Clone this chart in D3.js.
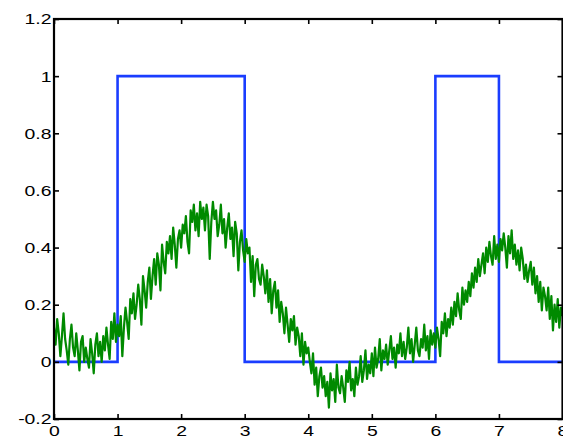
<!DOCTYPE html>
<html>
<head>
<meta charset="utf-8">
<script src="https://cdn.jsdelivr.net/npm/d3@7"></script>
<style>
html,body{margin:0;padding:0;background:#fff;overflow:hidden;}
svg{display:block;}
.tick text{font-family:"Liberation Sans",Arial,Helvetica,sans-serif;font-size:15.5px;fill:#000;}
</style>
</head>
<body>
<svg id="chart" width="563" height="442"></svg>
<script>
// ---- data ----
const xTicks = [0,1,2,3,4,5,6,7,8];
const yTicks = [-0.2,0,0.2,0.4,0.6,0.8,1,1.2];

// square (blue) signal: breakpoints and levels
const stepX = [0,1,1,3,3,6,6,7,7,8];
const stepY = [0,0,1,1,0,0,1,1,0,0];

// noisy (green) signal, sampled every 0.025 from 0 to 8
const noisyStart = 0, noisyStep = 0.025;
const noisyY = [
0.12,0.06,0.15,0.10,0.02,0.09,0.17,0.08,0.04,-0.01,
0.08,0.13,0.05,0.02,0.10,0.04,-0.03,0.07,0.09,0.00,
0.05,0.01,-0.02,0.08,0.03,-0.04,0.06,0.10,0.02,0.07,
0.00,0.09,0.04,0.12,0.06,0.01,0.14,0.08,0.17,0.07,
0.13,0.09,0.16,0.02,0.12,0.19,0.14,0.08,0.22,0.17,
0.24,0.15,0.20,0.27,0.22,0.13,0.30,0.25,0.19,0.28,
0.33,0.22,0.30,0.36,0.27,0.38,0.34,0.25,0.41,0.35,
0.31,0.42,0.38,0.44,0.36,0.47,0.41,0.33,0.43,0.46,
0.40,0.48,0.45,0.51,0.42,0.38,0.53,0.49,0.55,0.46,
0.52,0.44,0.56,0.50,0.54,0.46,0.55,0.51,0.36,0.49,
0.56,0.50,0.53,0.44,0.48,0.55,0.45,0.50,0.40,0.47,
0.52,0.43,0.47,0.37,0.49,0.45,0.32,0.42,0.46,0.39,
0.35,0.43,0.38,0.40,0.28,0.37,0.23,0.34,0.36,0.29,
0.27,0.34,0.30,0.24,0.32,0.21,0.29,0.17,0.25,0.28,
0.19,0.25,0.14,0.21,0.17,0.10,0.19,0.13,0.07,0.15,
0.11,0.16,0.06,0.12,0.09,0.02,0.10,-0.01,0.07,0.03,
0.05,0.00,-0.04,0.03,-0.08,-0.02,-0.12,-0.05,-0.02,-0.09,
-0.05,-0.12,-0.07,-0.16,-0.04,-0.10,-0.06,-0.14,-0.01,-0.09,
-0.11,-0.05,-0.09,-0.14,-0.03,-0.07,0.00,-0.10,-0.06,-0.12,
-0.02,-0.08,-0.05,0.02,-0.07,-0.03,0.04,-0.06,-0.01,-0.04,
0.03,-0.05,0.05,-0.02,0.01,0.08,-0.03,0.04,0.01,0.06,
-0.01,0.04,0.09,0.01,0.05,-0.02,0.06,0.03,0.10,0.02,
0.07,0.01,0.05,0.12,0.03,0.08,0.00,0.06,0.12,0.04,
0.02,0.08,0.05,0.13,0.04,0.09,0.01,0.11,0.06,0.10,
0.05,0.12,0.08,0.02,0.14,0.10,0.17,0.09,0.15,0.12,
0.19,0.13,0.21,0.16,0.24,0.18,0.15,0.26,0.20,0.25,
0.21,0.28,0.23,0.31,0.26,0.33,0.28,0.36,0.30,0.34,
0.38,0.31,0.40,0.35,0.42,0.37,0.34,0.44,0.36,0.41,
0.35,0.43,0.39,0.45,0.40,0.33,0.44,0.38,0.46,0.36,
0.41,0.34,0.39,0.32,0.40,0.36,0.29,0.34,0.28,0.32,
0.35,0.27,0.33,0.24,0.30,0.21,0.28,0.18,0.26,0.23,
0.18,0.26,0.15,0.23,0.11,0.20,0.14,0.22,0.12,0.19,
0.16
];

// ---- chart ----
const L = 54, R = 562.5, T = 19, B = 419;
const svg = d3.select("#chart");
const x = d3.scaleLinear().domain([0,8]).range([L,R]);
const y = d3.scaleLinear().domain([-0.2,1.2]).range([B,T]);
const fmt = d => String(+d.toFixed(1));

svg.append("clipPath").attr("id","clip")
  .append("rect").attr("x",L).attr("y",T).attr("width",R-L).attr("height",B-T);

const plot = svg.append("g").attr("clip-path","url(#clip)");

// square wave
const stepData = stepX.map((v,i)=>[v, stepY[i]]);
plot.append("path")
  .datum(stepData)
  .attr("fill","none")
  .attr("stroke","#1a3dff")
  .attr("stroke-width",2.6)
  .attr("stroke-linejoin","miter")
  .attr("d", d3.line().x(d=>x(d[0])).y(d=>y(d[1])));

// noisy signal
const noisyData = noisyY.map((v,i)=>[noisyStart + i*noisyStep, v]);
plot.append("path")
  .datum(noisyData)
  .attr("fill","none")
  .attr("stroke","#008a00")
  .attr("stroke-width",2.2)
  .attr("stroke-linejoin","round")
  .attr("d", d3.line().x(d=>x(d[0])).y(d=>y(d[1])));

// axes with inward ticks
function styleAxis(g){
  g.select(".domain").remove();
  g.selectAll(".tick line").attr("stroke","#000").attr("stroke-width",1.6);
}
const SX = 1.25;
svg.append("g").attr("transform",`translate(0,${B})`)
  .call(d3.axisBottom(x).tickValues(xTicks).tickSize(-5).tickPadding(6).tickFormat(fmt))
  .call(styleAxis)
  .call(g => g.selectAll(".tick text").attr("transform",`scale(${SX},1)`));
svg.append("g").attr("transform",`translate(0,${T})`)
  .call(d3.axisTop(x).tickValues(xTicks).tickSize(-5).tickFormat(""))
  .call(styleAxis);
svg.append("g").attr("transform",`translate(${L},0)`)
  .call(d3.axisLeft(y).tickValues(yTicks).tickSize(-5).tickPadding(2).tickFormat(fmt))
  .call(styleAxis)
  .call(g => g.selectAll(".tick text").attr("transform",`scale(${SX},1)`));
svg.append("g").attr("transform",`translate(${R},0)`)
  .call(d3.axisRight(y).tickValues(yTicks).tickSize(-5).tickFormat(""))
  .call(styleAxis);

// frame
svg.append("rect")
  .attr("x",L).attr("y",T).attr("width",R-L).attr("height",B-T)
  .attr("fill","none").attr("stroke","#000").attr("stroke-width",2.2);
</script>
</body>
</html>
